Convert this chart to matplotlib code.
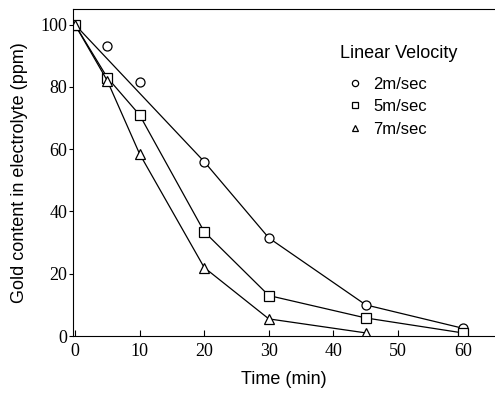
import matplotlib.pyplot as plt
from matplotlib.lines import Line2D

# data (time in min, gold in ppm)
t_2 = [0, 5, 10, 20, 30, 45, 60]
au_2 = [100, 93, 81.5, 56, 31.5, 10, 2.5]
t_2_line = [0, 20, 30, 45, 60]
au_2_line = [100, 56, 31.5, 10, 2.5]

t_5 = [0, 5, 10, 20, 30, 45, 60]
au_5 = [100, 83, 71, 33.5, 13, 5.8, 1]

t_7 = [0, 5, 10, 20, 30, 45]
au_7 = [100, 82, 58.5, 22, 5.5, 1]

labels = ['2m/sec', '5m/sec', '7m/sec']

plt.rcParams['font.family'] = ['Liberation Sans', 'DejaVu Sans']

fig = plt.figure(figsize=(4.95, 3.93), dpi=100)
ax = fig.add_axes([0.1475, 0.145, 0.8525, 0.832])

ax.plot(t_2_line, au_2_line, color='black', lw=0.9)
ax.plot(t_2, au_2, 'o', ms=6.5, mfc='white', mec='black', mew=0.9)
ax.plot(t_5, au_5, '-s', color='black', lw=0.9, ms=7, mfc='white', mec='black', mew=0.9)
ax.plot(t_7, au_7, '-^', color='black', lw=0.9, ms=7, mfc='white', mec='black', mew=0.9)

ax.set_xlim(-0.3, 65)
ax.set_ylim(0, 105)
ax.set_xticks([0, 10, 20, 30, 40, 50, 60])
ax.set_yticks([0, 20, 40, 60, 80, 100])
ax.spines['right'].set_visible(False)
ax.tick_params(axis='x', direction='in', length=4, pad=5)
ax.tick_params(axis='y', direction='out', length=3, pad=1)
for lab in ax.get_xticklabels() + ax.get_yticklabels():
    lab.set_fontfamily('Liberation Serif')
    lab.set_fontsize(13)

ax.set_xlabel('Time (min)', fontsize=13, labelpad=8)
ax.set_ylabel('Gold content in electrolyte (ppm)', fontsize=13, labelpad=9)

# legend title placed on its own, entries below it
fig.text(0.687, 0.865, 'Linear Velocity', fontsize=13, ha='left', va='center')
handles = [Line2D([], [], ls='', marker=m, ms=4.5, mfc='white', mec='black', mew=0.9)
           for m in ['o', 's', '^']]
leg = ax.legend(handles, labels, frameon=False, fontsize=12, loc='upper left',
                bbox_to_anchor=(0.671, 0.826), bbox_transform=fig.transFigure,
                handlelength=1.8, handletextpad=0.15,
                labelspacing=0.45, borderpad=0)

fig.savefig('out.png', dpi=100)
